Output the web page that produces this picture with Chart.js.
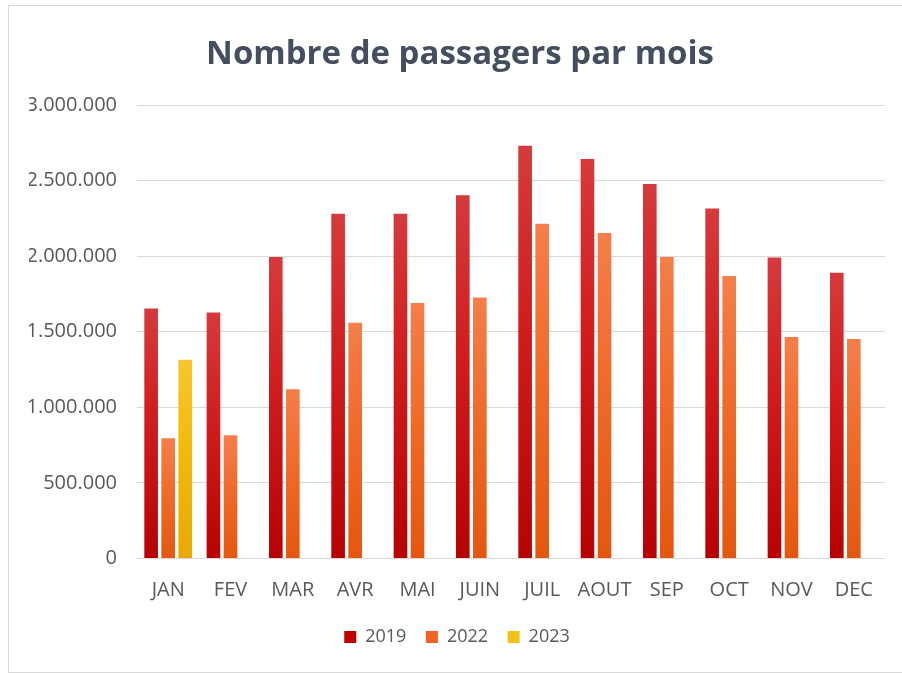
<!DOCTYPE html>
<html lang="fr">
<head>
<meta charset="utf-8">
<title>Nombre de passagers par mois</title>
<script src="https://cdn.jsdelivr.net/npm/chart.js@4"></script>
<style>
  html, body { margin: 0; padding: 0; background: #fff; overflow: hidden; }
  .frame {
    position: absolute; left: 8px; top: 5px; width: 900px; height: 666px;
    border: 1px solid #d9d9d9; background: #fff;
  }
  .chart-box { position: absolute; left: 0; top: 0; width: 902px; height: 673px; }
</style>
</head>
<body>
<div class="frame"></div>
<div class="chart-box"><canvas id="passengersChart"></canvas></div>
<script>
const months = ["JAN", "FEV", "MAR", "AVR", "MAI", "JUIN", "JUIL", "AOUT", "SEP", "OCT", "NOV", "DEC"];
const years = ["2019", "2022", "2023"];
const passengers2019 = [1654000, 1627000, 1994000, 2280000, 2280000, 2403000, 2730000, 2642000, 2478000, 2315000, 1992000, 1890000];
const passengers2022 = [795000, 815000, 1120000, 1560000, 1690000, 1727000, 2215000, 2153000, 1994000, 1868000, 1465000, 1452000];
const passengers2023 = [1315000, null, null, null, null, null, null, null, null, null, null, null];
const yTicks = [0, 500000, 1000000, 1500000, 2000000, 2500000, 3000000];
const chartTitle = "Nombre de passagers par mois";

// top -> bottom gradient stops for each series, plus a flat colour for the legend
const barShades = [
  ["#d63a3c", "#d01c1c", "#b60202"],
  ["#f57e4a", "#ef6b2a", "#e4570f"],
  ["#f8c62c", "#f3b90c", "#e8a900"],
];
const legendColors = ["#c00000", "#f06424", "#f2c314"];

function barGradient(seriesIndex) {
  return (ctx) => {
    const chart = ctx.chart;
    const stops = barShades[seriesIndex];
    if (!chart.chartArea || ctx.type !== "data" || ctx.raw == null) return stops[1];
    const y = chart.scales.y;
    const top = y.getPixelForValue(ctx.raw);
    const base = y.getPixelForValue(0);
    if (!isFinite(top) || base - top < 1) return stops[1];
    const g = chart.ctx.createLinearGradient(0, top, 0, base);
    g.addColorStop(0, stops[0]);
    g.addColorStop(0.45, stops[1]);
    g.addColorStop(1, stops[2]);
    return g;
  };
}

function formatThousands(v) {
  return String(v).replace(/\B(?=(\d{3})+(?!\d))/g, ".");
}

// title drawn by hand so it can sit a little right of the canvas centre
const headingPlugin = {
  id: "heading",
  afterDraw(chart) {
    const c = chart.ctx;
    c.save();
    c.font = "bold 33px 'Open Sans', sans-serif";
    c.fillStyle = "#434e5e";
    c.textAlign = "center";
    c.textBaseline = "alphabetic";
    c.fillText(chartTitle, 460, 64);
    c.restore();
  },
};

function createPassengersChart() {
  const el = document.getElementById("passengersChart");
  if (!el) return;

  const series = [passengers2019, passengers2022, passengers2023];

  return new Chart(el, {
    type: "bar",
    data: {
      labels: months,
      datasets: series.map((data, i) => ({
        label: years[i],
        data: data,
        backgroundColor: barGradient(i),
        borderWidth: 0,
        categoryPercentage: 0.82,
        barPercentage: 0.8,
      })),
    },
    plugins: [headingPlugin],
    options: {
      responsive: true,
      maintainAspectRatio: false,
      animation: false,
      layout: {
        padding: { left: 29, right: 17, top: 105, bottom: 17 },
      },
      plugins: {
        title: { display: false },
        legend: {
          position: "bottom",
          labels: {
            color: "#595959",
            font: { family: "'Open Sans', sans-serif", size: 18 },
            boxWidth: 12,
            boxHeight: 12,
            padding: 19.5,
            generateLabels: (chart) => {
              const items = Chart.defaults.plugins.legend.labels.generateLabels(chart);
              items.forEach((item) => {
                item.fillStyle = legendColors[item.datasetIndex];
                item.strokeStyle = legendColors[item.datasetIndex];
                item.lineWidth = 0;
              });
              return items;
            },
          },
        },
        tooltip: { enabled: false },
      },
      scales: {
        x: {
          afterFit: (scale) => { scale.height = 50; },
          grid: { display: false, drawTicks: false },
          border: { display: false },
          ticks: {
            color: "#595959",
            font: { family: "'Open Sans', sans-serif", size: 20 },
            padding: 20,
            maxRotation: 0,
            autoSkip: false,
          },
        },
        y: {
          min: 0,
          max: 3000000,
          afterFit: (scale) => { scale.width = 108; },
          afterBuildTicks: (scale) => {
            scale.ticks = yTicks.map((v) => ({ value: v }));
          },
          grid: { color: "#d9d9d9", lineWidth: 1, drawTicks: false },
          border: { display: false },
          ticks: {
            color: "#595959",
            font: { family: "'Open Sans', sans-serif", size: 20 },
            padding: 20,
            callback: (value) => formatThousands(value),
          },
        },
      },
    },
  });
}

document.addEventListener("DOMContentLoaded", createPassengersChart);
</script>
</body>
</html>
